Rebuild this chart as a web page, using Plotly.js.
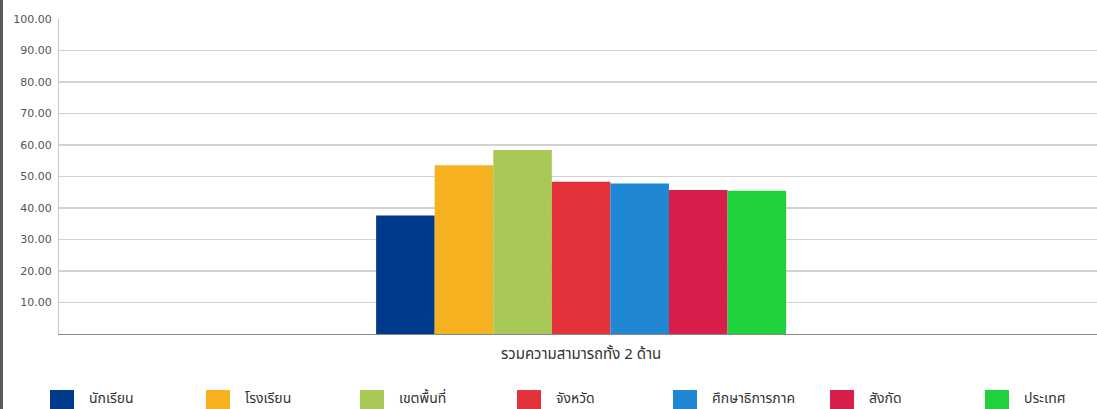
<!DOCTYPE html>
<html>
<head>
<meta charset="utf-8">
<script src="https://cdn.plot.ly/plotly-3.0.1.min.js"></script>
<style>
  html, body { margin: 0; padding: 0; background: #fff; overflow: hidden; }
  #chart { width: 1097px; height: 409px; }
  #edge { position: absolute; left: 0; top: 0; width: 3px; height: 409px; background: #5a5a5a; }
</style>
</head>
<body>
<div id="chart"></div>
<div id="edge"></div>
<script>
// ---- data ----
const category = ["รวมความสามารถทั้ง 2 ด้าน"];
const seriesNames = ["นักเรียน", "โรงเรียน", "เขตพื้นที่", "จังหวัด", "ศึกษาธิการภาค", "สังกัด", "ประเทศ"];
const seriesValues = [37.6, 53.6, 58.4, 48.3, 47.8, 45.7, 45.5];
const seriesColors = ["#003a8c", "#f5b120", "#a9c957", "#e3323a", "#1f87d4", "#d81e4a", "#1fd13a"];
const yTickVals = [10, 20, 30, 40, 50, 60, 70, 80, 90, 100];
const yTickText = ["10.00", "20.00", "30.00", "40.00", "50.00", "60.00", "70.00", "80.00", "90.00", "100.00"];

const thaiFont = "Tahoma, 'Noto Sans Thai', 'Noto Sans', 'DejaVu Sans', sans-serif";

const traces = seriesNames.map((name, i) => ({
  type: "bar",
  name: name,
  x: category,
  y: [seriesValues[i]],
  marker: { color: seriesColors[i], line: { width: 0 } },
  hoverinfo: "skip",
  showlegend: false
}));

// custom legend (squares + labels) laid out in paper coordinates
const plotLeft = 59, plotWidth = 1038, plotBottom = 334, plotHeight = 315;
const px2x = px => (px - plotLeft) / plotWidth;
const py2y = py => (plotBottom - py) / plotHeight;
const legendLeft = [50, 206, 360, 517, 673, 830, 985];
const shapes = [];
const annotations = [];
seriesNames.forEach((name, i) => {
  shapes.push({
    type: "rect", xref: "paper", yref: "paper",
    x0: px2x(legendLeft[i]), x1: px2x(legendLeft[i] + 24),
    y0: py2y(390), y1: py2y(414),
    fillcolor: seriesColors[i], line: { width: 0 }
  });
  annotations.push({
    xref: "paper", yref: "paper",
    x: px2x(legendLeft[i] + 37), y: py2y(398),
    xanchor: "left", yanchor: "middle",
    text: name, showarrow: false,
    font: { family: thaiFont, size: 14, color: "#333" }
  });
});

const layout = {
  width: 1097, height: 409,
  margin: { l: 59, r: 0, t: 19, b: 75 },
  paper_bgcolor: "#fff", plot_bgcolor: "#fff",
  barmode: "group", bargap: 0.605, bargroupgap: 0,
  showlegend: false,
  xaxis: {
    type: "category",
    range: [-0.503, 0.497],
    showline: true, linecolor: "#8a8a8a", linewidth: 1,
    showgrid: false, ticks: "",
    ticklabelstandoff: 6,
    tickfont: { family: thaiFont, size: 15, color: "#333" },
    fixedrange: true
  },
  yaxis: {
    range: [0, 100],
    tickvals: yTickVals, ticktext: yTickText,
    showline: true, linecolor: "#c8c8c8", linewidth: 1,
    gridcolor: "#d2d2d2", gridwidth: 1.5,
    zeroline: false, ticks: "",
    ticklabelstandoff: 4,
    tickfont: { family: "'DejaVu Sans', sans-serif", size: 11, color: "#555" },
    fixedrange: true
  },
  shapes: shapes,
  annotations: annotations
};

Plotly.newPlot("chart", traces, layout, { displayModeBar: false, staticPlot: true });
</script>
</body>
</html>
